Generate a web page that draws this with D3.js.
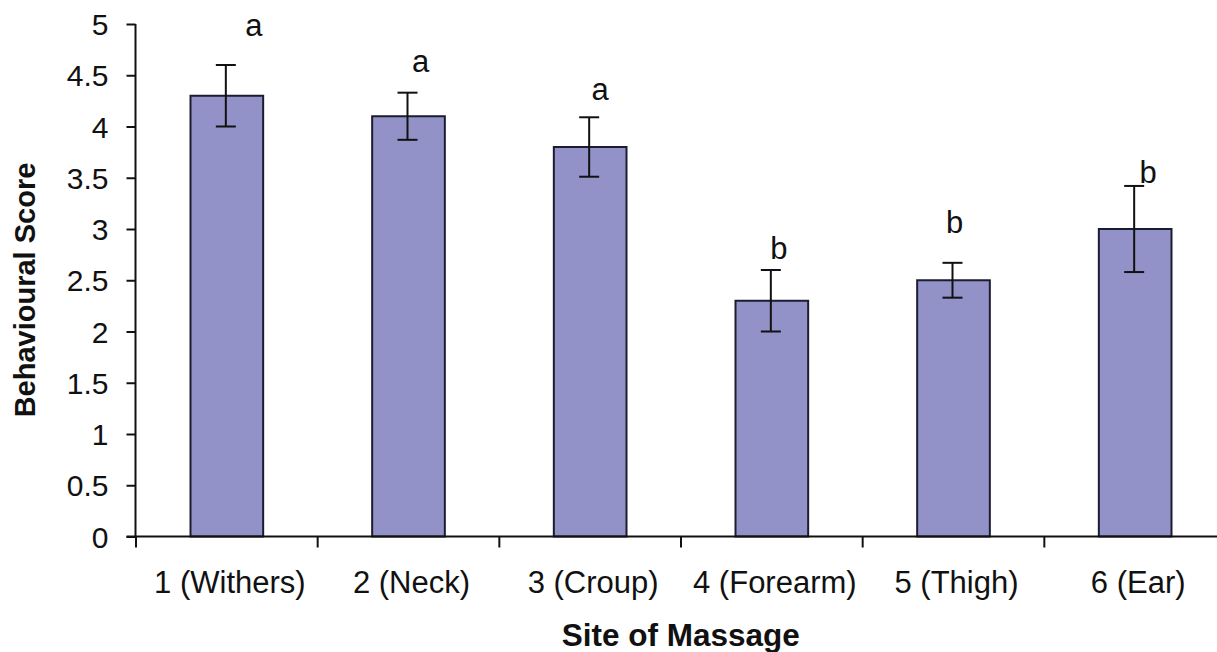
<!DOCTYPE html>
<html>
<head>
<meta charset="utf-8">
<script src="https://cdn.jsdelivr.net/npm/d3@7"></script>
<style>
  html, body { margin: 0; padding: 0; background: #ffffff; }
  svg { display: block; font-family: "Liberation Sans", Arial, sans-serif; }
</style>
</head>
<body>
<svg id="chart" width="1217" height="652"></svg>
<script>
// ---- data ----
const categories = ["1 (Withers)", "2 (Neck)", "3 (Croup)", "4 (Forearm)", "5 (Thigh)", "6 (Ear)"];
const scores = [4.3, 4.1, 3.8, 2.3, 2.5, 3.0];
const errors = [0.30, 0.23, 0.29, 0.30, 0.17, 0.42];
const groupLetters = ["a", "a", "a", "b", "b", "b"];
const letterLevels = [4.88, 4.53, 4.26, 2.71, 2.96, 3.45];   // baseline of letter, in score units
const letterShift = [27, 12, 10, 7, 1, 13];                // px shift from bar centre
const yTickValues = [0, 0.5, 1, 1.5, 2, 2.5, 3, 3.5, 4, 4.5, 5];
const yTickLabels = ["0", "0.5", "1", "1.5", "2", "2.5", "3", "3.5", "4", "4.5", "5"];
const yTitle = "Behavioural Score";
const xTitle = "Site of Massage";

// ---- layout ----
const svg = d3.select("#chart");
const plotLeft = 135.5, plotRight = 1226, plotTop = 24, plotBottom = 536.5;
const ink = "#111111";
const barFill = "#9292c8";
const barStroke = "#1c1c30";

const x = d3.scaleBand().domain(categories).range([plotLeft + 0.5, plotRight]).padding(0);
const y = d3.scaleLinear().domain([0, 5]).range([plotBottom, plotTop]);
const bw = x.bandwidth();
const barW = bw * 0.4;
const barX = c => x(c) + bw * 0.3;
const centre = c => x(c) + bw / 2;

// bars
svg.append("g").selectAll("rect").data(categories).join("rect")
  .attr("x", c => barX(c))
  .attr("y", (c, i) => y(scores[i]))
  .attr("width", barW)
  .attr("height", (c, i) => y(0) - y(scores[i]))
  .attr("fill", barFill)
  .attr("stroke", barStroke)
  .attr("stroke-width", 2);

// error bars
const eb = svg.append("g").attr("stroke", ink).attr("stroke-width", 2);
categories.forEach((c, i) => {
  const cx = centre(c) - 1;
  const hi = y(scores[i] + errors[i]), lo = y(scores[i] - errors[i]);
  eb.append("line").attr("x1", cx).attr("x2", cx).attr("y1", hi).attr("y2", lo);
  eb.append("line").attr("x1", cx - 10).attr("x2", cx + 10).attr("y1", hi).attr("y2", hi);
  eb.append("line").attr("x1", cx - 10).attr("x2", cx + 10).attr("y1", lo).attr("y2", lo);
});

// group letters
svg.append("g").selectAll("text").data(categories).join("text")
  .attr("x", (c, i) => centre(c) + letterShift[i])
  .attr("y", (c, i) => y(letterLevels[i]))
  .attr("text-anchor", "middle")
  .attr("font-size", 31)
  .attr("fill", ink)
  .text((c, i) => groupLetters[i]);

// y axis
const yAxis = d3.axisLeft(y)
  .tickValues(yTickValues)
  .tickFormat((d, i) => yTickLabels[i])
  .tickSize(9)
  .tickPadding(18);
const gy = svg.append("g").attr("transform", `translate(${plotLeft},0)`).call(yAxis);
gy.select(".domain").attr("stroke", ink).attr("stroke-width", 2).attr("d", `M0,${plotTop}V${plotBottom}`);
gy.selectAll(".tick line").attr("stroke", ink).attr("stroke-width", 2);
gy.selectAll(".tick text").attr("font-size", 30).attr("fill", ink)
  .attr("font-family", "'Liberation Sans', Arial, sans-serif").attr("dy", "0.35em");

// x axis line
svg.append("line").attr("x1", plotLeft - 9).attr("x2", 1217).attr("y1", plotBottom).attr("y2", plotBottom)
  .attr("stroke", ink).attr("stroke-width", 2);

// x boundary ticks
const bounds = categories.map(c => x(c)).concat([x.range()[1]]);
svg.append("g").selectAll("line").data(bounds).join("line")
  .attr("x1", d => d).attr("x2", d => d)
  .attr("y1", plotBottom).attr("y2", plotBottom + 11)
  .attr("stroke", ink).attr("stroke-width", 2);

// x labels
const xAxis = d3.axisBottom(x).tickSize(0).tickPadding(0);
const gx = svg.append("g").attr("transform", `translate(0,${plotBottom})`).call(xAxis);
gx.select(".domain").remove();
gx.selectAll(".tick text")
  .attr("font-size", 31).attr("fill", ink)
  .attr("font-family", "'Liberation Sans', Arial, sans-serif")
  .attr("dy", 0).attr("y", 56).attr("dx", 3);

// titles
svg.append("text")
  .attr("x", (plotLeft + plotRight) / 2).attr("y", 646)
  .attr("text-anchor", "middle").attr("font-size", 31.5).attr("font-weight", "bold").attr("fill", ink)
  .text(xTitle);
svg.append("text")
  .attr("transform", `translate(35,290) rotate(-90)`)
  .attr("text-anchor", "middle").attr("font-size", 29).attr("font-weight", "bold").attr("fill", ink)
  .text(yTitle);
</script>
</body>
</html>
